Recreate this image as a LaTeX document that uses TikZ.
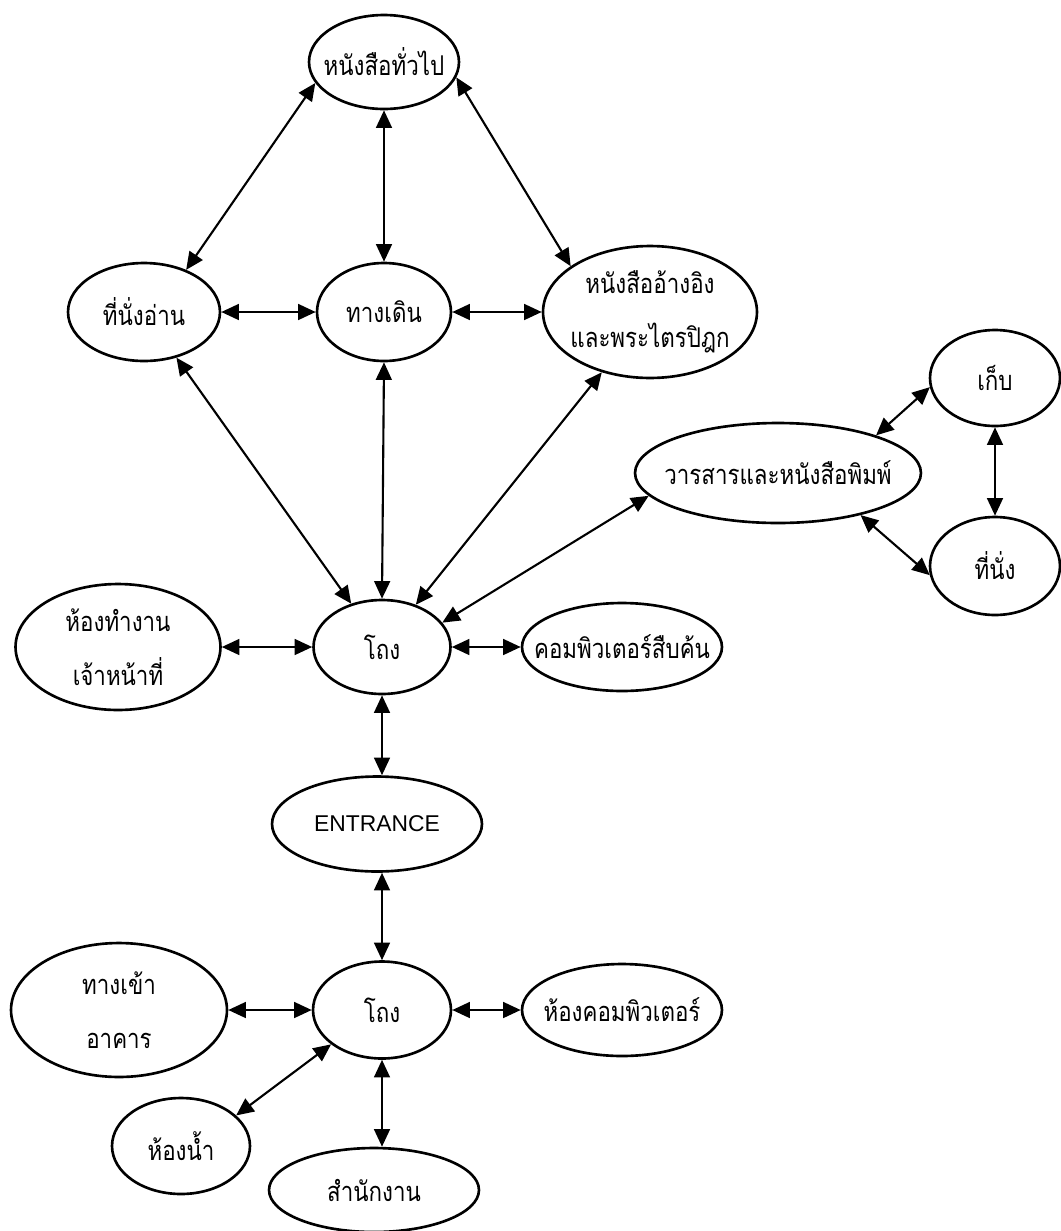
\documentclass[tikz,border=0pt]{standalone}
\usepackage{graphicx}
\usepackage{fontspec}
\setmainfont{Liberation Sans}
\newfontfamily\thaifont[Script=Thai]{Loma}
\usetikzlibrary{shapes.geometric,arrows.meta,positioning}
\newcommand{\roomtext}[1]{\makebox[0pt]{\scalebox{0.82}[1]{#1}}}

\begin{document}
\begin{tikzpicture}[
    x=0.02cm, y=-0.02cm,
    room/.style={ellipse, draw, line width=1.5pt, inner sep=0pt, align=center, font=\thaifont\fontsize{15.5}{31}\selectfont},
    arrow/.style={<->, >={Triangle[length=10pt,width=9pt]}, line width=1.2pt}
]
\useasboundingbox (0,0) rectangle (1061,1231);

\node[room, minimum width=3.0cm, minimum height=1.88cm] (general) at (384,62) {\roomtext{หนังสือทั่วไป}};
\node[room, minimum width=3.04cm, minimum height=1.96cm] (reading) at (144,312) {\roomtext{ที่นั่งอ่าน}};
\node[room, minimum width=2.68cm, minimum height=1.96cm] (walk) at (384,312) {\roomtext{ทางเดิน}};
\node[room, minimum width=4.28cm, minimum height=2.64cm] (ref) at (650,312) {\roomtext{หนังสืออ้างอิง}\\\roomtext{และพระไตรปิฎก}};
\node[room, minimum width=2.6cm, minimum height=1.92cm] (store) at (995,378) {\roomtext{เก็บ}};
\node[room, minimum width=5.72cm, minimum height=2.0cm] (journal) at (778,473) {\roomtext{วารสารและหนังสือพิมพ์}};
\node[room, minimum width=2.6cm, minimum height=1.96cm] (seat) at (995,566) {\roomtext{ที่นั่ง}};
\node[room, minimum width=4.1cm, minimum height=2.52cm] (staff) at (118,647) {\roomtext{ห้องทำงาน}\\\roomtext{เจ้าหน้าที่}};
\node[room, minimum width=2.74cm, minimum height=1.88cm] (hall) at (382,647) {\roomtext{โถง}};
\node[room, minimum width=4.0cm, minimum height=1.76cm] (search) at (622,647) {\roomtext{คอมพิวเตอร์สืบค้น}};
\node[room, minimum width=4.2cm, minimum height=1.9cm, font=\fontsize{13}{16}\selectfont] (entrance) at (377,824) {\makebox[0pt]{ENTRANCE}};
\node[room, minimum width=2.76cm, minimum height=1.94cm] (lobby) at (382,1010) {\roomtext{โถง}};
\node[room, minimum width=4.32cm, minimum height=2.68cm] (door) at (119,1010) {\roomtext{ทางเข้า}\\\roomtext{อาคาร}};
\node[room, minimum width=4.0cm, minimum height=1.84cm] (pc) at (622,1010) {\roomtext{ห้องคอมพิวเตอร์}};
\node[room, minimum width=2.76cm, minimum height=1.92cm] (wc) at (181,1146) {\roomtext{ห้องน้ำ}};
\node[room, minimum width=4.2cm, minimum height=1.68cm] (office) at (374,1190) {\roomtext{สำนักงาน}};

\draw[arrow] (general.197) -- (reading.45);
\draw[arrow] (general.south) -- (walk.north);
\draw[arrow] (general.-12) -- (ref.150);
\draw[arrow] (reading.east) -- (walk.west);
\draw[arrow] (walk.east) -- (ref.west);
\draw[arrow] (reading) -- (hall);
\draw[arrow] (walk.south) -- (hall.north);
\draw[arrow] (ref) -- (hall);
\draw[arrow] (hall.22) -- (journal.190);
\draw[arrow] (journal.21) -- (store.188);
\draw[arrow] (journal.-27) -- (seat.188);
\draw[arrow] (store.south) -- (seat.north);
\draw[arrow] (staff.east) -- (hall.west);
\draw[arrow] (hall.east) -- (search.west);
\draw[arrow] (hall.south) -- (entrance.north -| hall.south);
\draw[arrow] (entrance.south -| lobby.north) -- (lobby.north);
\draw[arrow] (door.east) -- (lobby.west);
\draw[arrow] (lobby.east) -- (pc.west);
\draw[arrow] (lobby.214) -- (wc.29);
\draw[arrow] (lobby.south) -- (office.north -| lobby.south);
\end{tikzpicture}
\end{document}
